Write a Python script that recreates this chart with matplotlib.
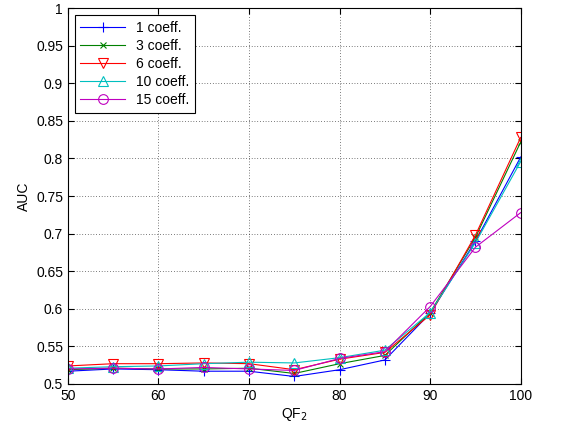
import numpy as np
import matplotlib
matplotlib.use('Agg')
import matplotlib.pyplot as plt

plt.rcParams['font.family'] = ['Liberation Sans', 'DejaVu Sans']
plt.rcParams['font.size'] = 10

qf = [50, 55, 60, 65, 70, 75, 80, 85, 90, 95, 100]
auc_1 = [0.517, 0.520, 0.519, 0.517, 0.517, 0.510, 0.519, 0.532, 0.594, 0.690, 0.802]
auc_3 = [0.519, 0.521, 0.520, 0.520, 0.521, 0.514, 0.527, 0.538, 0.595, 0.695, 0.822]
auc_6 = [0.524, 0.527, 0.527, 0.528, 0.527, 0.519, 0.533, 0.542, 0.592, 0.698, 0.828]
auc_10 = [0.521, 0.523, 0.524, 0.527, 0.529, 0.528, 0.535, 0.545, 0.595, 0.688, 0.796]
auc_15 = [0.520, 0.521, 0.520, 0.522, 0.520, 0.518, 0.534, 0.543, 0.603, 0.682, 0.728]

# data, colour, marker, marker size, label
series = [
    (auc_1, 'b', '+', 7, '1 coeff.'),
    (auc_3, 'g', 'x', 5, '3 coeff.'),
    (auc_6, 'r', 'v', 7, '6 coeff.'),
    (auc_10, 'c', '^', 7, '10 coeff.'),
    (auc_15, 'm', 'o', 7, '15 coeff.'),
]

fig = plt.figure(figsize=(5.66, 4.30), dpi=100)
ax = fig.add_axes([0.120, 0.107, 0.800, 0.874])
for y, c, m, ms, lab in series:
    ax.plot(qf, y, color=c, marker=m, markersize=ms, markerfacecolor='none',
            markeredgecolor=c, markeredgewidth=0.8, linewidth=0.8, label=lab)

ax.set_xlim(50, 100)
ax.set_ylim(0.5, 1.0)
ax.set_xticks(np.arange(50, 101, 10))
ax.set_yticks(np.arange(0.5, 1.001, 0.05))
ax.set_yticklabels(['0.5', '0.55', '0.6', '0.65', '0.7', '0.75', '0.8', '0.85', '0.9', '0.95', '1'])
ax.grid(True, linestyle=(0, (1, 3)), color='k', linewidth=0.5)
ax.tick_params(direction='in', top=True, right=True, length=4)
ax.set_xlabel('QF$_2$', labelpad=2)
ax.set_ylabel('AUC', labelpad=4)
leg = ax.legend(loc='upper left', fancybox=False, edgecolor='k', framealpha=1,
                borderaxespad=0.5, handlelength=3.2, labelspacing=0.3)
leg.get_frame().set_linewidth(0.8)

fig.savefig('out.png', dpi=100)
